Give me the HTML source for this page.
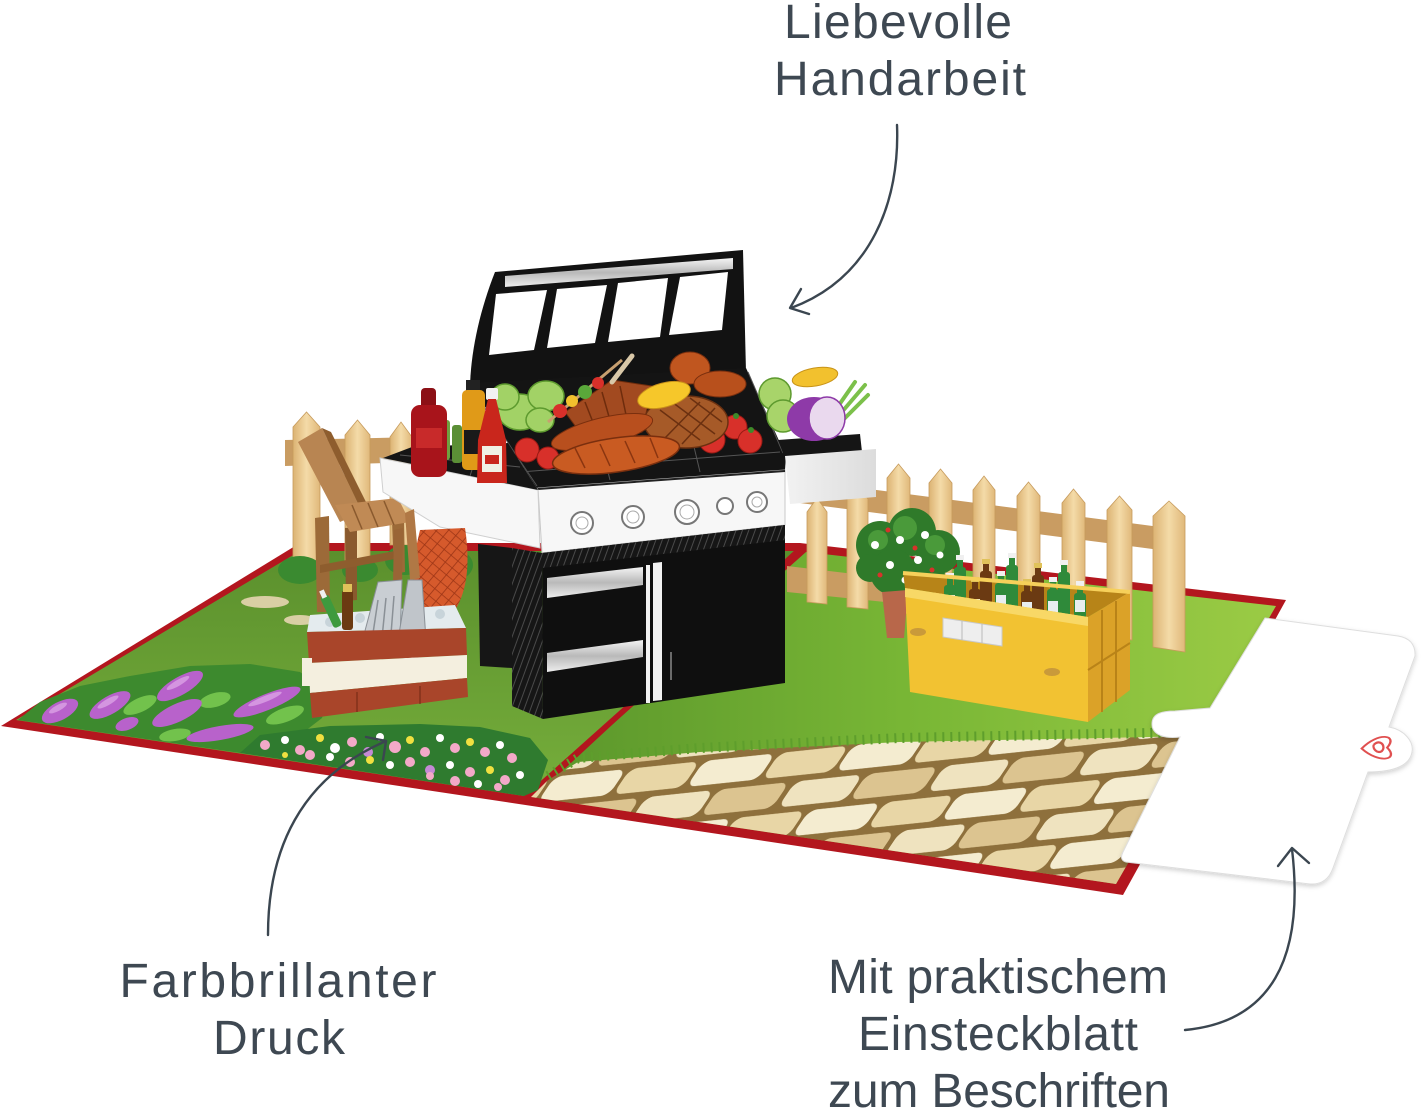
<!DOCTYPE html>
<html><head><meta charset="utf-8"><style>
html,body{margin:0;padding:0;background:#fff;}
body{width:1421px;height:1116px;overflow:hidden;}
svg{display:block;}
text{font-family:"Liberation Sans",sans-serif;}
</style></head><body>
<svg xmlns="http://www.w3.org/2000/svg" width="1421" height="1116" viewBox="0 0 1421 1116">
<defs>
<linearGradient id="gL" x1="0" y1="0" x2="0" y2="1"><stop offset="0" stop-color="#5b902d"/><stop offset="1" stop-color="#76ae3b"/></linearGradient>
<linearGradient id="gR" x1="0" y1="0" x2="1" y2="0"><stop offset="0" stop-color="#5a952b"/><stop offset="0.5" stop-color="#78b635"/><stop offset="1" stop-color="#9bcb45"/></linearGradient>
<linearGradient id="pk" x1="0" y1="0" x2="1" y2="0"><stop offset="0" stop-color="#dcb373"/><stop offset="0.5" stop-color="#f4dba8"/><stop offset="1" stop-color="#e0b87a"/></linearGradient>
<linearGradient id="silver" x1="0" y1="0" x2="0" y2="1"><stop offset="0" stop-color="#f4f4f4"/><stop offset="0.5" stop-color="#b9b9b9"/><stop offset="1" stop-color="#eeeeee"/></linearGradient>
<linearGradient id="shelfR" x1="0" y1="0" x2="1" y2="0"><stop offset="0" stop-color="#f2f2f2"/><stop offset="1" stop-color="#dcdcdc"/></linearGradient>
<pattern id="stones" width="150" height="60" patternUnits="userSpaceOnUse" patternTransform="translate(540,745) rotate(-6) skewX(-40)">
<rect width="150" height="60" fill="#8e703c"/>
<rect x="3" y="3" width="68" height="24" rx="8" fill="#efe3bf"/>
<rect x="75" y="3" width="72" height="24" rx="8" fill="#dcc490"/>
<rect x="-35" y="33" width="70" height="24" rx="8" fill="#e8d6a6"/>
<rect x="115" y="33" width="70" height="24" rx="8" fill="#e8d6a6"/>
<rect x="39" y="33" width="72" height="24" rx="8" fill="#f4ecd0"/>
</pattern>
<pattern id="mitt" width="9" height="9" patternUnits="userSpaceOnUse" patternTransform="rotate(40)">
<rect width="9" height="9" fill="#d65a2c"/>
<path d="M0,0 H9 M0,0 V9" stroke="#9c3516" stroke-width="1.6"/>
</pattern>
<pattern id="vent" width="6" height="6" patternUnits="userSpaceOnUse" patternTransform="rotate(-70)">
<rect width="6" height="6" fill="#161616"/>
<path d="M0,3 H6" stroke="#4a4a4a" stroke-width="1"/>
</pattern>
<filter id="sh" x="-10%" y="-10%" width="120%" height="120%"><feDropShadow dx="0" dy="2" stdDeviation="2.5" flood-color="#000" flood-opacity="0.18"/></filter>
</defs>

<rect width="1421" height="1116" fill="#ffffff"/>

<!-- CARD BASE -->
<polygon points="1,726 300,543 800,543 1286,600 1123,895" fill="#b3161e"/>
<polygon points="16,720 300,551 798,551 524,796" fill="url(#gL)"/>
<polygon points="806,552 1276,606 1116,884 531,797" fill="url(#gR)"/>
<line x1="800" y1="548" x2="527" y2="801" stroke="#b3161e" stroke-width="4"/>

<!-- stone path -->
<polygon points="531,797 548,780 578,762 700,752 900,742 1201,736 1116,884" fill="url(#stones)"/>
<polyline points="548,776 578,758 700,748 900,738 1201,732" fill="none" stroke="#5e9e2c" stroke-width="10" stroke-dasharray="2 6"/>

<!-- left flowers: lupines -->
<polygon points="18,720 40,702 80,686 130,676 190,666 250,664 300,672 330,694 322,718 300,735 240,753" fill="#3d8a2e"/>
<g fill="#72c24c">
<ellipse cx="60" cy="712" rx="16" ry="7" transform="rotate(-20 60 712)"/>
<ellipse cx="140" cy="705" rx="18" ry="7" transform="rotate(-25 140 705)"/>
<ellipse cx="215" cy="700" rx="16" ry="7" transform="rotate(-15 215 700)"/>
<ellipse cx="285" cy="715" rx="20" ry="7" transform="rotate(-20 285 715)"/>
<ellipse cx="175" cy="735" rx="16" ry="6" transform="rotate(-10 175 735)"/>
</g>
<g fill="#b862cb">
<ellipse cx="60" cy="711" rx="20" ry="9" transform="rotate(-28 60 711)"/>
<ellipse cx="110" cy="705" rx="23" ry="9" transform="rotate(-30 110 705)"/>
<ellipse cx="127" cy="724" rx="12" ry="6" transform="rotate(-20 127 724)"/>
<ellipse cx="180" cy="686" rx="26" ry="9" transform="rotate(-30 180 686)"/>
<ellipse cx="177" cy="713" rx="27" ry="9" transform="rotate(-25 177 713)"/>
<ellipse cx="267" cy="702" rx="36" ry="8" transform="rotate(-22 267 702)"/>
<ellipse cx="220" cy="733" rx="34" ry="7" transform="rotate(-10 220 733)"/>
</g>
<g fill="#dba2e6" opacity="0.8">
<ellipse cx="58" cy="708" rx="10" ry="3" transform="rotate(-28 58 708)"/>
<ellipse cx="108" cy="702" rx="12" ry="3" transform="rotate(-30 108 702)"/>
<ellipse cx="178" cy="683" rx="13" ry="3" transform="rotate(-30 178 683)"/>
<ellipse cx="265" cy="699" rx="18" ry="3" transform="rotate(-22 265 699)"/>
</g>
<!-- flower bed -->
<polygon points="240,753 260,735 330,726 420,724 480,727 530,738 548,760 538,790 524,796" fill="#2f7b2f"/>
<g>
<circle cx="265" cy="745" r="5" fill="#f3a9c8"/><circle cx="285" cy="740" r="4" fill="#fff"/>
<circle cx="300" cy="750" r="5" fill="#f3a9c8"/><circle cx="320" cy="738" r="4" fill="#f0e040"/>
<circle cx="335" cy="748" r="5" fill="#fff"/><circle cx="352" cy="742" r="5" fill="#f3a9c8"/>
<circle cx="368" cy="752" r="5" fill="#c48ad4"/><circle cx="380" cy="737" r="4" fill="#fff"/>
<circle cx="395" cy="747" r="6" fill="#f3a9c8"/><circle cx="410" cy="740" r="4" fill="#f0e040"/>
<circle cx="425" cy="752" r="5" fill="#f3a9c8"/><circle cx="440" cy="738" r="4" fill="#fff"/>
<circle cx="455" cy="748" r="5" fill="#f3a9c8"/><circle cx="470" cy="742" r="4" fill="#f0e040"/>
<circle cx="485" cy="752" r="5" fill="#f3a9c8"/><circle cx="500" cy="745" r="4" fill="#fff"/>
<circle cx="512" cy="758" r="5" fill="#f3a9c8"/><circle cx="520" cy="775" r="4" fill="#fff"/>
<circle cx="505" cy="780" r="5" fill="#f3a9c8"/><circle cx="490" cy="770" r="4" fill="#f0e040"/>
<circle cx="470" cy="772" r="5" fill="#f3a9c8"/><circle cx="450" cy="765" r="4" fill="#fff"/>
<circle cx="430" cy="770" r="5" fill="#c48ad4"/><circle cx="410" cy="762" r="5" fill="#f3a9c8"/>
<circle cx="390" cy="765" r="4" fill="#fff"/><circle cx="370" cy="760" r="4" fill="#f0e040"/>
<circle cx="350" cy="762" r="5" fill="#f3a9c8"/><circle cx="330" cy="757" r="4" fill="#fff"/>
<circle cx="310" cy="755" r="5" fill="#f3a9c8"/><circle cx="285" cy="755" r="3" fill="#f0e040"/>
<circle cx="455" cy="781" r="5" fill="#f3a9c8"/><circle cx="478" cy="784" r="4" fill="#fff"/>
<circle cx="430" cy="776" r="4" fill="#f3a9c8"/><circle cx="498" cy="787" r="4" fill="#f3a9c8"/>
</g>

<!-- RIGHT FENCE -->
<polygon points="800,480 1160,527 1160,550 800,503" fill="#c99c62"/>
<polygon points="787,566 905,580 905,604 787,592" fill="#c99c62"/>
<g fill="url(#pk)" stroke="#c79b5c" stroke-width="0.8">
<polygon points="807,512 817,498 827,512 827,604 807,602"/>
<polygon points="847,499 857.5,485 868,499 868,609 847,607"/>
<polygon points="887,478 898.5,464 910,478 910,614 887,611"/>
<polygon points="929,483 940.5,469 952,483 952,619 929,616"/>
<polygon points="973,490 984,476 995,490 995,624 973,621"/>
<polygon points="1017,496 1028.5,482 1040,496 1040,629 1017,626"/>
<polygon points="1062,503 1073.5,489 1085,503 1085,634 1062,631"/>
<polygon points="1107,510 1119.5,496 1132,510 1132,640 1107,637"/>
<polygon points="1153,516 1169,501 1185,516 1185,652 1153,647"/>
</g>
<!-- bush + pot -->
<g fill="#2f7a2a">
<circle cx="880" cy="545" r="24"/><circle cx="912" cy="532" r="24"/><circle cx="938" cy="552" r="22"/>
<circle cx="893" cy="572" r="23"/><circle cx="925" cy="575" r="20"/><circle cx="870" cy="568" r="14"/>
</g>
<g fill="#4a9a3a"><circle cx="905" cy="528" r="12"/><circle cx="935" cy="545" r="10"/><circle cx="878" cy="540" r="10"/></g>
<g fill="#fff"><circle cx="875" cy="545" r="4"/><circle cx="900" cy="540" r="4"/><circle cx="925" cy="535" r="4"/><circle cx="890" cy="565" r="4"/><circle cx="918" cy="560" r="4"/><circle cx="940" cy="555" r="3.5"/><circle cx="905" cy="580" r="3.5"/></g>
<g fill="#d8322a"><circle cx="888" cy="530" r="2.5"/><circle cx="915" cy="548" r="2.5"/><circle cx="932" cy="570" r="2.5"/><circle cx="880" cy="575" r="2.5"/></g>
<polygon points="882,592 908,590 904,638 887,638" fill="#b8674a"/>

<!-- CRATE -->
<polygon points="903,572 1130,592 1088,617 905,588" fill="#b78418"/>
<g>
<g fill="#2f8a3a"><rect x="957" y="558" width="6" height="12"/><rect x="954" y="567" width="12" height="42" rx="3"/></g>
<rect x="956" y="555" width="8" height="5" fill="#f0f0f0"/>
<g fill="#6b3a12"><rect x="983" y="562" width="6" height="12"/><rect x="980" y="571" width="12" height="42" rx="3"/></g>
<rect x="982" y="559" width="8" height="5" fill="#e0c25a"/>
<g fill="#2f8a3a"><rect x="1009" y="556" width="6" height="12"/><rect x="1006" y="565" width="12" height="46" rx="3"/></g>
<rect x="1008" y="553" width="8" height="5" fill="#f0f0f0"/>
<g fill="#6b3a12"><rect x="1035" y="566" width="6" height="12"/><rect x="1032" y="575" width="12" height="42" rx="3"/></g>
<rect x="1034" y="563" width="8" height="5" fill="#e0c25a"/>
<g fill="#2f8a3a"><rect x="1061" y="563" width="6" height="12"/><rect x="1058" y="572" width="12" height="44" rx="3"/></g>
<rect x="1060" y="560" width="8" height="5" fill="#f0f0f0"/>
<g fill="#2f8a3a"><rect x="947" y="576" width="6" height="12"/><rect x="944" y="585" width="12" height="30" rx="3"/></g>
<rect x="946" y="573" width="8" height="5" fill="#f0f0f0"/><rect x="945" y="595" width="10" height="12" fill="#e8eef0"/>
<g fill="#6b3a12"><rect x="972" y="580" width="6" height="12"/><rect x="969" y="589" width="12" height="30" rx="3"/></g>
<rect x="971" y="577" width="8" height="5" fill="#e0c25a"/><rect x="970" y="599" width="10" height="12" fill="#e8eef0"/>
<g fill="#2f8a3a"><rect x="998" y="574" width="6" height="12"/><rect x="995" y="583" width="12" height="36" rx="3"/></g>
<rect x="997" y="571" width="8" height="5" fill="#f0f0f0"/><rect x="996" y="595" width="10" height="12" fill="#e8eef0"/>
<g fill="#6b3a12"><rect x="1024" y="582" width="6" height="12"/><rect x="1021" y="591" width="12" height="32" rx="3"/></g>
<rect x="1023" y="579" width="8" height="5" fill="#e0c25a"/><rect x="1022" y="602" width="10" height="12" fill="#e8eef0"/>
<g fill="#2f8a3a"><rect x="1050" y="580" width="6" height="12"/><rect x="1047" y="589" width="12" height="36" rx="3"/></g>
<rect x="1049" y="577" width="8" height="5" fill="#f0f0f0"/><rect x="1048" y="601" width="10" height="12" fill="#e8eef0"/>
<g fill="#2f8a3a"><rect x="1077" y="584" width="6" height="12"/><rect x="1074" y="593" width="12" height="30" rx="3"/></g>
<rect x="1076" y="581" width="8" height="5" fill="#f0f0f0"/><rect x="1075" y="600" width="10" height="12" fill="#e8eef0"/>
</g>
<polygon points="905,588 1088,617 1088,722 910,692" fill="#f2c232"/>
<polygon points="905,588 1088,617 1088,626 905,597" fill="#f8d866"/>
<polygon points="1088,617 1130,592 1130,690 1088,722" fill="#dba228"/>
<g stroke="#b98318" stroke-width="2"><line x1="1102" y1="610" x2="1102" y2="712"/><line x1="1116" y1="601" x2="1116" y2="702"/><line x1="1088" y1="670" x2="1130" y2="643"/></g>
<line x1="903" y1="573" x2="1130" y2="592" stroke="#f6d05a" stroke-width="4"/>
<polygon points="943,618 1002,627 1002,646 943,637" fill="#eeeeee" stroke="#c9c9c9" stroke-width="1"/>
<line x1="962" y1="621" x2="962" y2="640" stroke="#bbb"/><line x1="982" y1="624" x2="982" y2="643" stroke="#bbb"/>
<ellipse cx="918" cy="632" rx="8" ry="4" fill="#c99a3a"/><ellipse cx="1052" cy="672" rx="8" ry="4" fill="#c99a3a"/>

<!-- LEFT side: bushes, fence, chair -->
<ellipse cx="265" cy="602" rx="24" ry="6" fill="#d9cfa4"/>
<ellipse cx="300" cy="620" rx="16" ry="5" fill="#d9cfa4"/>
<polygon points="285,440 420,437 420,462 285,466" fill="#c99c62"/>
<g fill="url(#pk)" stroke="#c79b5c" stroke-width="0.8">
<polygon points="293,427 306.5,412 320,427 320,578 293,578"/>
<polygon points="345,435 357.5,420 370,435 370,575 345,575"/>
<polygon points="390,437 401,422 412,437 412,545 390,545"/>
</g>
<g fill="#3a8a30"><ellipse cx="300" cy="570" rx="22" ry="14"/><ellipse cx="405" cy="560" rx="20" ry="15"/><ellipse cx="445" cy="565" rx="28" ry="18"/><ellipse cx="360" cy="570" rx="18" ry="12"/></g>
<!-- chair -->
<polygon points="315,518 329,516 330,612 317,612" fill="#9c6a38"/>
<polygon points="345,528 357,527 357,600 346,601" fill="#8a5a2e"/>
<polygon points="392,520 404,518 405,572 394,574" fill="#9c6a38"/>
<polygon points="320,565 400,550 400,558 320,573" fill="#8e5d2e"/>
<polygon points="298,442 322,428 362,512 340,522" fill="#b88552"/>
<polygon points="322,428 331,432 369,508 362,512" fill="#8e5d2e"/>
<polygon points="335,505 398,498 410,522 350,532" fill="#c08a55"/>
<g stroke="#8a5a2e" stroke-width="1.5"><line x1="352" y1="505" x2="362" y2="529"/><line x1="368" y1="503" x2="378" y2="527"/><line x1="384" y1="501" x2="394" y2="525"/></g>

<!-- GRILL HOOD -->
<path d="M495,272 L743,250 L746,372 L470,386 C471,350 480,310 495,272 Z" fill="#121212"/>
<polygon points="505,276 733,258 733,269 505,287" fill="url(#silver)"/>
<g fill="#ffffff">
<polygon points="496,294 547,290 534,350 489,355"/>
<polygon points="557,289 607,285 595,343 547,348"/>
<polygon points="618,283 668,278 660,337 608,342"/>
<polygon points="680,277 728,272 722,330 669,335"/>
</g>
<polygon points="470,383 746,368 786,456 785,470 538,490" fill="#141414"/>
<g stroke="#555" stroke-width="1"><line x1="474" y1="392" x2="537" y2="486"/><line x1="748" y1="372" x2="783" y2="453"/><line x1="520" y1="472" x2="780" y2="452"/><line x1="610" y1="480" x2="600" y2="440"/><line x1="700" y1="472" x2="690" y2="430"/></g>
<!-- food -->
<g stroke="#5d9a2e" stroke-width="1.5" fill="#a2d266">
<ellipse cx="520" cy="412" rx="22" ry="18"/><ellipse cx="546" cy="396" rx="18" ry="15"/><ellipse cx="505" cy="397" rx="14" ry="13"/><ellipse cx="540" cy="420" rx="14" ry="12"/>
</g>
<g fill="#d8302a" stroke="#9a1a14" stroke-width="1"><circle cx="527" cy="450" r="12"/><circle cx="548" cy="458" r="11"/><circle cx="712" cy="440" r="13"/><circle cx="735" cy="427" r="12"/><circle cx="750" cy="441" r="12"/></g>
<g fill="#3d8a2a"><circle cx="713" cy="428" r="3"/><circle cx="736" cy="416" r="3"/><circle cx="751" cy="430" r="3"/></g>
<line x1="548" y1="422" x2="622" y2="360" stroke="#c8a070" stroke-width="3"/>
<polygon points="565,412 612,380 652,386 642,432 590,446" fill="#a24a20" stroke="#6e2c0c" stroke-width="1"/>
<g stroke="#6e2c0c" stroke-width="1.5"><line x1="585" y1="402" x2="600" y2="440"/><line x1="602" y1="392" x2="615" y2="438"/><line x1="620" y1="386" x2="630" y2="434"/></g>
<line x1="612" y1="382" x2="632" y2="356" stroke="#d9c8a8" stroke-width="5" stroke-linecap="round"/>
<g><circle cx="560" cy="411" r="7" fill="#d8302a"/><circle cx="572" cy="401" r="6" fill="#f2c12e"/><circle cx="585" cy="392" r="7" fill="#5aa83a"/><circle cx="598" cy="383" r="6" fill="#d8302a"/></g>
<ellipse cx="686" cy="422" rx="42" ry="26" fill="#a65a28" stroke="#6b3010" stroke-width="1.5"/>
<g stroke="#6b3010" stroke-width="1.5"><line x1="660" y1="410" x2="700" y2="440"/><line x1="672" y1="402" x2="715" y2="434"/><line x1="690" y1="398" x2="722" y2="422"/><line x1="665" y1="438" x2="700" y2="402"/><line x1="682" y1="444" x2="715" y2="408"/></g>
<ellipse cx="690" cy="368" rx="20" ry="16" fill="#c0561f" stroke="#7a2f0e" stroke-width="1"/>
<ellipse cx="720" cy="384" rx="26" ry="13" fill="#b8501c" stroke="#7a2f0e" stroke-width="1"/>
<ellipse cx="664" cy="395" rx="27" ry="12" fill="#f6c72a" stroke="#c8901a" stroke-width="1" transform="rotate(-15 664 395)"/>
<ellipse cx="602" cy="432" rx="52" ry="14" fill="#b84f1e" stroke="#7a2f0e" stroke-width="1" transform="rotate(-14 602 432)"/>
<ellipse cx="616" cy="455" rx="64" ry="17" fill="#c95b22" stroke="#7a2f0e" stroke-width="1.5" transform="rotate(-8 616 455)"/>
<g stroke="#8a3510" stroke-width="1.5"><line x1="575" y1="448" x2="585" y2="468"/><line x1="600" y1="444" x2="610" y2="466"/><line x1="625" y1="441" x2="635" y2="463"/><line x1="650" y1="438" x2="658" y2="458"/></g>
<!-- right shelf + veggies -->
<polygon points="778,440 860,434 862,452 785,458" fill="#151515"/>
<polygon points="785,456 876,449 876,497 790,504" fill="url(#shelfR)"/>
<g fill="#a8d46a" stroke="#5d9a2e" stroke-width="1.5"><circle cx="775" cy="394" r="16"/><circle cx="783" cy="416" r="16"/></g>
<ellipse cx="815" cy="377" rx="23" ry="9" fill="#f2c12e" stroke="#c89318" stroke-width="1" transform="rotate(-10 815 377)"/>
<g stroke="#7cc04a" stroke-width="4" stroke-linecap="round"><line x1="835" y1="420" x2="865" y2="385"/><line x1="838" y1="425" x2="868" y2="395"/><line x1="832" y1="415" x2="855" y2="382"/></g>
<ellipse cx="814" cy="419" rx="27" ry="22" fill="#8e3aa8"/>
<ellipse cx="827" cy="418" rx="18" ry="21" fill="#ead9ee" stroke="#8e3aa8" stroke-width="1.5"/>
<!-- control panel -->
<polygon points="538,488 785,470 785,525 542,553" fill="#f7f7f7" stroke="#c8c8c8" stroke-width="1"/>
<line x1="538" y1="489" x2="785" y2="471" stroke="#222" stroke-width="2"/>
<g fill="#ffffff" stroke="#777" stroke-width="2"><circle cx="582" cy="523" r="11"/><circle cx="633" cy="517" r="11"/><circle cx="687" cy="512" r="12"/><circle cx="725" cy="506" r="8"/><circle cx="757" cy="502" r="10"/></g>
<g fill="none" stroke="#aaa" stroke-width="1"><circle cx="582" cy="523" r="6"/><circle cx="633" cy="517" r="6"/><circle cx="687" cy="512" r="7"/><circle cx="757" cy="502" r="5"/></g>
<!-- left shelf -->
<polygon points="380,458 538,490 540,548 440,527 383,492" fill="#f7f7f7" stroke="#cfcfcf" stroke-width="1"/>
<polygon points="383,458 412,447 508,443 538,490" fill="#151515"/>
<g stroke="#555" stroke-width="1"><line x1="420" y1="466" x2="440" y2="447"/><line x1="470" y1="476" x2="480" y2="445"/><line x1="400" y1="455" x2="520" y2="467"/></g>
<!-- condiments -->
<rect x="440" y="420" width="10" height="40" rx="3" fill="#6fa040"/><rect x="452" y="425" width="10" height="38" rx="3" fill="#5b8f36"/>
<rect x="421" y="388" width="15" height="24" rx="4" fill="#8c1016"/>
<rect x="411" y="405" width="36" height="72" rx="9" fill="#a8141b"/>
<rect x="416" y="428" width="26" height="20" fill="#c82a2a"/>
<rect x="466" y="380" width="14" height="12" fill="#222"/>
<rect x="462" y="390" width="23" height="80" rx="5" fill="#e09a18"/>
<rect x="464" y="430" width="19" height="24" fill="#1a1a1a"/>
<rect x="486" y="388" width="12" height="12" rx="2" fill="#f2f2f2"/>
<path d="M488,399 L496,399 L506,440 L507,483 L477,483 L478,440 Z" fill="#c9261c"/>
<rect x="482" y="446" width="20" height="26" fill="#f0f0e4"/><rect x="485" y="455" width="14" height="9" fill="#c9261c"/>

<!-- CABINET -->
<polygon points="478,544 512,548 512,668 480,666" fill="#161616"/>
<polygon points="512,548 542,553 543,719 512,706" fill="url(#vent)"/>
<polygon points="542,553 785,525 785,683 543,719" fill="#0f0f0f"/>
<polygon points="542,553 785,525 785,540 542,568" fill="url(#vent)"/>
<polygon points="547,578 643,567 643,585 547,598" fill="url(#silver)"/>
<polygon points="547,653 643,640 643,657 547,672" fill="url(#silver)"/>
<polygon points="646,565 650,565 650,703 646,703" fill="#f2f2f2"/>
<polygon points="653,563 662,562 662,700 653,701" fill="#f2f2f2"/>
<line x1="671" y1="652" x2="671" y2="680" stroke="#888" stroke-width="1.5"/>

<!-- mitt, tools, cooler -->
<path d="M420,530 L465,528 C470,560 468,590 455,610 C445,618 425,615 418,600 C410,580 414,555 420,530 Z" fill="url(#mitt)"/>
<polygon points="405,513 414,509 420,578 410,580" fill="#b07845"/>
<polygon points="394,530 403,528 402,585 393,585" fill="#9a6536"/>
<polygon points="310,615 455,605 466,628 307,632" fill="#e4ebee"/>
<g fill="#c8d4da"><circle cx="330" cy="622" r="5"/><circle cx="360" cy="618" r="5"/><circle cx="400" cy="615" r="5"/><circle cx="440" cy="614" r="5"/></g>
<g transform="rotate(-25 332 612)"><rect x="327" y="594" width="9" height="34" rx="3" fill="#3e9a3e"/><rect x="329" y="588" width="5" height="8" fill="#f0f0f0"/></g>
<rect x="342" y="590" width="11" height="40" rx="3" fill="#6b3a12"/><rect x="343" y="584" width="9" height="8" fill="#e0c25a"/>
<rect x="375" y="596" width="10" height="34" rx="3" fill="#6b3a12"/><rect x="376" y="590" width="8" height="7" fill="#e0c25a"/>
<polygon points="378,582 402,580 400,640 372,656 362,642" fill="#c9ced3" stroke="#8a9096" stroke-width="1"/>
<g stroke="#8a9096" stroke-width="1.5"><line x1="378" y1="600" x2="372" y2="640"/><line x1="386" y1="598" x2="382" y2="638"/><line x1="394" y1="596" x2="391" y2="634"/></g>
<polygon points="408,580 422,580 426,640 418,662 404,660 398,640" fill="#c0c5ca" stroke="#8a9096" stroke-width="1"/>
<g stroke="#fff" stroke-width="2"><line x1="406" y1="640" x2="406" y2="660"/><line x1="413" y1="640" x2="412" y2="662"/><line x1="420" y1="640" x2="418" y2="660"/></g>
<polygon points="307,632 466,628 467,655 309,663" fill="#a9452a"/>
<polygon points="309,663 467,655 467,678 310,693" fill="#f4efdf"/>
<polygon points="310,693 467,678 468,697 312,718" fill="#a9452a"/>
<rect x="302" y="658" width="10" height="28" fill="#f4efdf"/>
<g stroke="#7a2c18" stroke-width="1.2"><line x1="357" y1="692" x2="357" y2="712"/><line x1="420" y1="686" x2="420" y2="704"/></g>

<!-- INSERT CARD -->
<path d="M1265,618 L1398,636 Q1416,639 1415,656 L1389,727 C1405,730 1414,742 1412,752 C1410,765 1395,772 1368,772 L1333,868 Q1327,885 1310,884 L1126,862 Q1119,860 1123,852 L1180,737 C1165,739 1152,735 1152,724 C1152,713 1163,711 1175,711 L1210,708 Z" fill="#ffffff" stroke="#dedede" stroke-width="1" filter="url(#sh)"/>
<g transform="translate(1377,748) rotate(88)" fill="none" stroke="#e05050" stroke-width="1.4">
<path d="M0,9 C-13,-1 -10,-13 0,-6 C10,-13 13,-1 0,9 Z" transform="scale(1.25,1.7)"/>
<path d="M-2,2 C-6,-2 -1,-6 2,-3 C4,0 0,3 -2,2" transform="scale(1.6)"/>
</g>

<!-- ARROWS -->
<g fill="none" stroke="#3b4650" stroke-width="2.4" stroke-linecap="round" stroke-linejoin="round">
<path d="M897,125 C900,200 872,278 791,308"/>
<path d="M801,289 L790,308 L809,314"/>
<path d="M268,935 C268,850 300,778 386,741"/>
<path d="M366,737 L386,741 L383,760"/>
<path d="M1185,1030 C1270,1022 1305,960 1292,849"/>
<path d="M1278,866 L1292,848 L1309,863"/>
</g>

<!-- TEXT -->
<g fill="#3e4852" font-size="48" text-anchor="middle">
<text x="898" y="38" textLength="228" lengthAdjust="spacing">Liebevolle</text>
<text x="900" y="95" textLength="252" lengthAdjust="spacing">Handarbeit</text>
<text x="278" y="997" textLength="317" lengthAdjust="spacing">Farbbrillanter</text>
<text x="279" y="1054" textLength="132" lengthAdjust="spacing">Druck</text>
<text x="998" y="993" textLength="340" lengthAdjust="spacing">Mit praktischem</text>
<text x="998" y="1050" textLength="280" lengthAdjust="spacing">Einsteckblatt</text>
<text x="999" y="1107" textLength="342" lengthAdjust="spacing">zum Beschriften</text>
</g>
</svg>
</body></html>
